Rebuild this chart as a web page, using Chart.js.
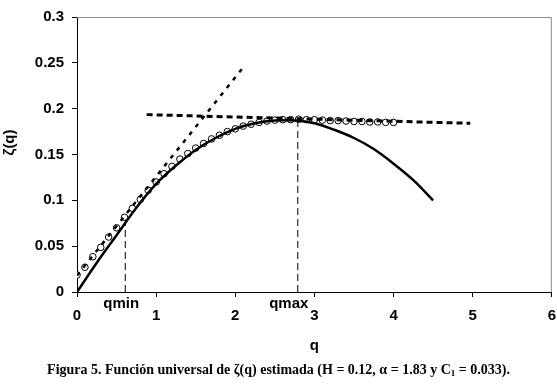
<!DOCTYPE html>
<html><head><meta charset="utf-8">
<script src="https://cdn.jsdelivr.net/npm/chart.js@4.4.1/dist/chart.umd.min.js"></script>
<style>
html,body{margin:0;padding:0;background:#fff;overflow:hidden;}
#wrap{position:relative;width:557px;height:385px;overflow:hidden;}
#c{position:absolute;left:0;top:0;}
#cap{position:absolute;left:0;width:557px;top:362px;text-align:center;font:bold 14px "Liberation Serif","Times New Roman",serif;color:#000;white-space:nowrap;}
#cap sub{font-size:9px;vertical-align:-2px;line-height:0;}
</style></head><body>
<div id="wrap"><canvas id="c" width="566" height="385"></canvas>
<div id="cap">Figura 5. Función universal de ζ(q) estimada (H = 0.12, α = 1.83 y C<sub>1</sub> = 0.033).</div></div>
<script>
// empirical ζ(q) (circles)
const qEmp = [0,0.1,0.2,0.3,0.4,0.5,0.6,0.7,0.8,0.9,1.0,1.1,1.2,1.3,1.4,1.5,1.6,1.7,1.8,1.9,2.0,2.1,2.2,2.3,2.4,2.5,2.6,2.7,2.8,2.9,3.0,3.1,3.2,3.3,3.4,3.5,3.6,3.7,3.8,3.9,4.0];
const zetaEmp = [0.0185,0.027,0.0385,0.0487,0.060,0.070,0.0815,0.0913,0.101,0.111,0.120,0.129,0.137,0.145,0.151,0.157,0.162,0.167,0.171,0.175,0.178,0.181,0.183,0.185,0.1865,0.1875,0.188,0.188,0.1885,0.188,0.188,0.1875,0.187,0.187,0.1865,0.186,0.186,0.1855,0.1855,0.185,0.185];
// universal (theoretical) curve, solid
const qUni = [0,0.25,0.5,0.75,1,1.25,1.5,1.75,2,2.25,2.5,2.75,3,3.25,3.5,3.75,4,4.25,4.5];
const zetaUni = [0,0.032,0.062,0.092,0.118,0.138,0.155,0.168,0.178,0.184,0.187,0.187,0.184,0.177,0.168,0.156,0.140,0.122,0.100];
// steep dashed line (low-q regime)
const qLow = [0,2.1];
const zetaLow = [0.018,0.245];
// nearly flat dashed line (high-q regime)
const qHigh = [0.88,4.97];
const zetaHigh = [0.1935,0.184];
// critical moments
const qMinVal = 0.61, zetaAtQmin = 0.079;
const qMaxVal = 2.79, zetaAtQmax = 0.1876;
const xTickLabels = ['0','1','2','3','4','5','6'];
const yTickLabels = ['0','0.05','0.1','0.15','0.2','0.25','0.3'];
const yTitle = 'ζ(q)';

const pts = (xs, ys) => xs.map((x,i)=>({x:x,y:ys[i]}));
const tickFont = {family:'"Liberation Sans", Arial, sans-serif', weight:'bold', size:15};

const framePlugin = {
  id:'frame',
  beforeDatasetsDraw(chart){
    const a = chart.chartArea, ctx = chart.ctx;
    ctx.save();
    ctx.strokeStyle = '#8a8a8a'; ctx.lineWidth = 1;
    ctx.beginPath();
    ctx.moveTo(a.left, a.top+0.5); ctx.lineTo(a.right-0.5, a.top+0.5); ctx.lineTo(a.right-0.5, a.bottom);
    ctx.stroke();
    ctx.restore();
  },
  afterDraw(chart){
    const ctx = chart.ctx, xs = chart.scales.x, a = chart.chartArea;
    ctx.save();
    ctx.font = 'bold 15px "Liberation Sans", Arial, sans-serif';
    ctx.fillStyle = '#000'; ctx.textAlign = 'center'; ctx.textBaseline = 'alphabetic';
    ctx.fillText('qmin', xs.getPixelForValue(qMinVal) - 4, 308);
    ctx.fillText('qmax', xs.getPixelForValue(qMaxVal) - 9, 308);
    // y axis title
    ctx.translate(10, (a.top + a.bottom) / 2 - 12);
    ctx.rotate(-Math.PI / 2);
    ctx.textBaseline = 'middle';
    ctx.fillText(yTitle, 0, 0);
    ctx.restore();
  }
};

new Chart(document.getElementById('c'), {
  type:'scatter',
  data:{datasets:[
    {label:'empírica', data:pts(qEmp,zetaEmp), showLine:false, pointRadius:3.3, pointHoverRadius:3.3, pointBackgroundColor:'#fff', pointBorderColor:'#000', pointBorderWidth:1, order:10},
    {label:'universal', data:pts(qUni,zetaUni), showLine:true, borderColor:'#000', borderWidth:2.5, pointRadius:0, tension:0.35, order:5},
    {label:'baja', data:pts(qLow,zetaLow), showLine:true, borderColor:'#000', borderWidth:2.5, borderDash:[4,6], pointRadius:0, order:4},
    {label:'alta', data:pts(qHigh,zetaHigh), showLine:true, borderColor:'#000', borderWidth:3, borderDash:[6,4], pointRadius:0, order:3},
    {label:'qmin', data:[{x:qMinVal,y:0},{x:qMinVal,y:zetaAtQmin}], showLine:true, borderColor:'#000', borderWidth:1, borderDash:[7,4], pointRadius:0, order:2},
    {label:'qmax', data:[{x:qMaxVal,y:0},{x:qMaxVal,y:zetaAtQmax}], showLine:true, borderColor:'#000', borderWidth:1, borderDash:[7,4], pointRadius:0, order:1}
  ]},
  options:{
    responsive:false, animation:false, devicePixelRatio:1,
    layout:{padding:{top:17,right:6,bottom:28,left:0}},
    plugins:{legend:{display:false}, tooltip:{enabled:false}},
    scales:{
      x:{type:'linear', min:0, max:6,
        ticks:{stepSize:1, color:'#000', font:tickFont, padding:10, maxRotation:0, callback:(v,i)=>xTickLabels[i]},
        grid:{drawOnChartArea:false, drawTicks:true, tickLength:5, color:'#000'},
        border:{display:true, color:'#000', width:1},
        title:{display:true, text:'q', color:'#000', font:{family:'"Liberation Sans", Arial, sans-serif', weight:'bold', size:15}, padding:{top:0,bottom:2}},
        afterFit(s){ s.height = 65; }
      },
      y:{type:'linear', min:0, max:0.3,
        ticks:{stepSize:0.05, color:'#000', font:tickFont, padding:8, callback:(v,i)=>yTickLabels[i]},
        grid:{drawOnChartArea:false, drawTicks:true, tickLength:5, color:'#000'},
        border:{display:true, color:'#000', width:1},
        title:{display:false},
        afterFit(s){ s.width = 77; }
      }
    }
  },
  plugins:[framePlugin]
});
</script>
</body></html>
